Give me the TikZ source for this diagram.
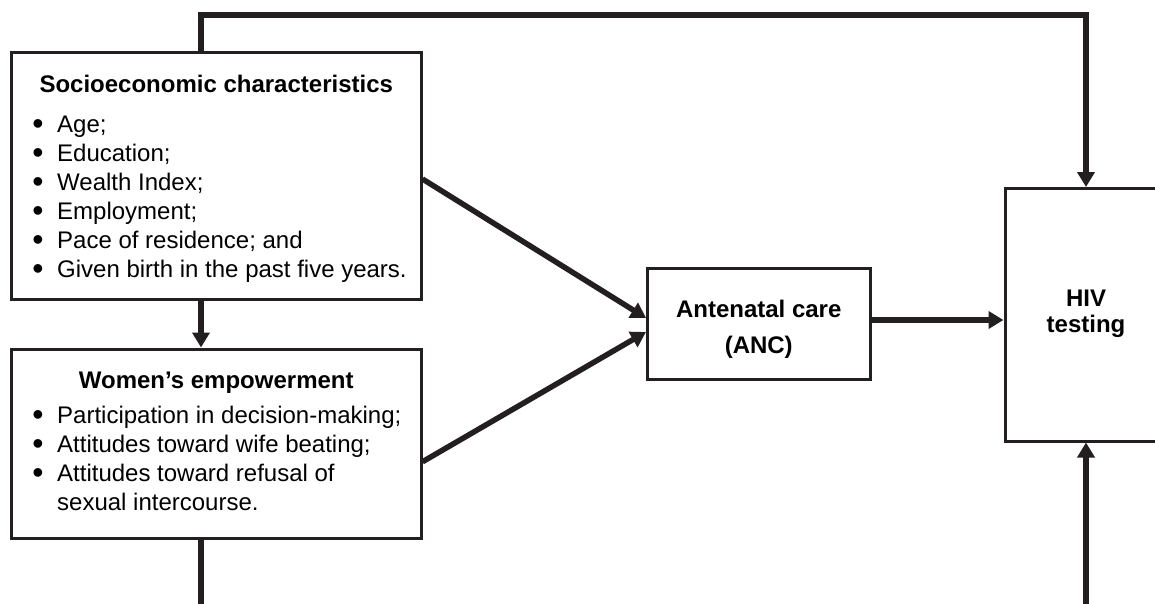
\documentclass[tikz,border=0pt]{standalone}
\usepackage{fontspec}
\setmainfont{Liberation Sans}
\usetikzlibrary{arrows.meta}
\definecolor{ink}{RGB}{35,31,32}
\begin{document}
\begin{tikzpicture}[x=1pt,y=-1pt,
  box/.style={draw=ink, line width=3pt, rectangle, inner sep=0pt, fill=white},
  conn/.style={draw=ink, line width=5.5pt},
  arr/.style={conn, -{Triangle[length=15pt,width=17pt]}},
  txt/.style={inner sep=0pt, text=black, font=\fontsize{24}{29}\selectfont},
  ttl/.style={txt, anchor=base, font=\fontsize{24}{29}\selectfont\bfseries},
  itm/.style={txt, anchor=base west},
  bul/.style={txt, anchor=base, font=\fontsize{32}{32}\selectfont}]
\useasboundingbox (0,0) rectangle (1155,603);
\clip (0,0) rectangle (1155,603);
% boxes
\node[box, minimum width=409.5pt, minimum height=247pt] (socio) at (216.25,176) {};
\node[box, minimum width=409.5pt, minimum height=189.5pt] (women) at (216.25,443.75) {};
\node[box, minimum width=222.5pt, minimum height=111pt] (anc) at (758.75,324) {};
\node[box, minimum width=162pt, minimum height=252.5pt] (hiv) at (1086,314.75) {};
% connectors
\coordinate (topL) at (201,15);
\coordinate (botL) at (201,650);
\draw[arr] (socio.north -| topL) -- (topL) -| (hiv.north);
\draw[arr] (socio.south -| topL) -- (women.north -| topL);
\draw[arr] (women.south -| botL) -- (botL) -| (hiv.south);
\draw[arr] ([yshift=-3pt]socio.east) -- ([yshift=6pt]anc.west);
\draw[arr] ([yshift=-18pt]women.east) -- ([yshift=-8pt]anc.west);
\draw[arr] ([yshift=4pt]anc.east) -- ([yshift=4pt]anc.east -| hiv.west);
% texts
\node[ttl] (sociot) at (216.25,92) {Socioeconomic characteristics};
\foreach \t [count=\i] in {Age;, Education;, Wealth Index;, Employment;, Pace of residence; and, Given birth in the past five years.} {
  \node[bul] (sb\i) at (38,{105+29*\i}) {\textbullet};
  \node[itm] (si\i) at (57,{103+29*\i}) {\t};
}
\node[ttl] (womt) at (216.25,388) {Women’s empowerment};
\foreach \t [count=\i] in {Participation in decision-making;, Attitudes toward wife beating;, Attitudes toward refusal of} {
  \node[bul] (wb\i) at (38,{396+29*\i}) {\textbullet};
  \node[itm] (wi\i) at (57,{394+29*\i}) {\t};
}
\node[itm] (wi4) at (57,510) {sexual intercourse.};
\node[ttl] (anc1) at (758.75,317) {Antenatal care};
\node[ttl] (anc2) at (758.75,353) {(ANC)};
\node[ttl] (hiv1) at (1086,306) {HIV};
\node[ttl] (hiv2) at (1086,332) {testing};
\end{tikzpicture}
\end{document}
